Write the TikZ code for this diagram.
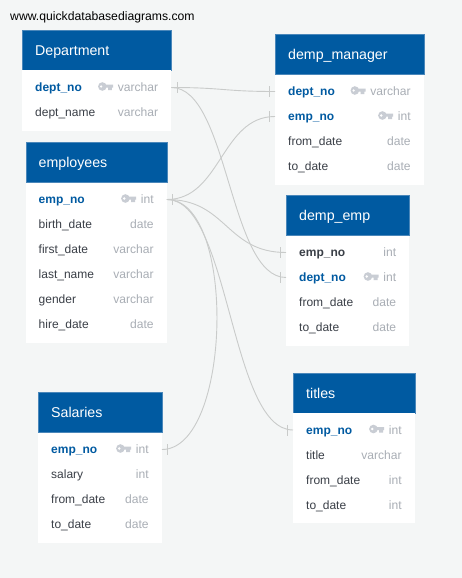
\documentclass[tikz,border=0pt]{standalone}
\usepackage{fontspec}
\setmainfont{Liberation Sans}
\usetikzlibrary{positioning}
\definecolor{pagebg}{HTML}{F4F6F6}
\definecolor{headblue}{HTML}{005AA1}
\definecolor{headedge}{HTML}{4A87BA}
\definecolor{namedark}{HTML}{3A3F47}
\definecolor{typegrey}{HTML}{A9AEB5}
\definecolor{keygrey}{HTML}{C9CDD4}
\definecolor{linkgrey}{HTML}{C9CBCA}
\tikzset{
  tablehead/.style={anchor=north west, fill=headblue, draw=headedge, line width=.3pt, text=white,
    font=\fontsize{14.2}{16}\selectfont, minimum height=40pt, inner xsep=13pt, inner ysep=0pt,
    text height=14.5pt, text depth=3pt},
  tablebody/.style={anchor=north west, fill=white, inner sep=0pt},
  rowbox/.style={anchor=north west, minimum height=25pt, inner xsep=13pt, inner ysep=0pt,
    font=\fontsize{12}{14}\selectfont, text height=11pt, text depth=3pt},
  plainname/.style={text=namedark},
  pkname/.style={text=headblue, font=\fontsize{12}{14}\selectfont\bfseries},
  fkname/.style={text=namedark, font=\fontsize{12}{14}\selectfont\bfseries},
  rowtype/.style={anchor=east, inner sep=0pt, text=typegrey,
    font=\fontsize{12.1}{14}\selectfont, text height=11pt, text depth=3pt},
  link/.style={draw=linkgrey, line width=.9pt},
  keyicon/.pic={
    \fill[keygrey] (-10.8,-1) circle (4.3);
    \fill[keygrey] (-9,-2.8) rectangle (0,0.2) (-5,0) rectangle (-1.2,2.6);
    \fill[white] (-12,-1) circle (1.3);
  },
  nokey/.pic={},
}
% name, x, y, width, title, rows, fields
\newcommand{\dbtable}[7]{
  \pgfmathsetlengthmacro{\tabletext}{#4-26}
  \node[tablehead, text width=\tabletext] (#1_head) at (#2,#3) {#5};
  \node[tablebody, minimum width=#4pt, minimum height=25*#6+10, below=0pt of #1_head.south west, anchor=north west] (#1_body) {};
  \foreach \fname/\ftype/\fstyle/\fkey [count=\rowi] in {#7} {
    \node[rowbox, \fstyle, text width=\tabletext] (#1_\rowi) at ([yshift=-4.5pt-25pt*(\rowi-1)]#1_head.south west) {\fname};
    \node[rowtype] (#1_\rowi_t) at ([xshift=-13pt]#1_\rowi.east) {\ftype};
    \path ([xshift=-4.5pt]#1_\rowi_t.west) pic {\fkey};
  }
}
\begin{document}
\begin{tikzpicture}[x=1pt,y=-1pt]
  \useasboundingbox (0,0) rectangle (462,578);
  \fill[pagebg] (0,0) rectangle (462,578);
  \node[anchor=base west, inner sep=0pt, font=\fontsize{12.2}{14}\selectfont] (site) at (10,20.5) {www.quickdatabasediagrams.com};

  \dbtable{Dept}{22}{30}{149}{Department}{2}{
    dept\_no/varchar/pkname/keyicon, dept\_name/varchar/plainname/nokey}
  \dbtable{Emp}{25.5}{142}{141}{employees}{6}{
    emp\_no/int/pkname/keyicon, birth\_date/date/plainname/nokey,
    first\_date/varchar/plainname/nokey, last\_name/varchar/plainname/nokey,
    gender/varchar/plainname/nokey, hire\_date/date/plainname/nokey}
  \dbtable{Mgr}{275}{34}{148.5}{demp\_manager}{4}{
    dept\_no/varchar/pkname/keyicon, emp\_no/int/pkname/keyicon,
    from\_date/date/plainname/nokey, to\_date/date/plainname/nokey}
  \dbtable{DeEmp}{286}{195}{123}{demp\_emp}{4}{
    emp\_no/int/fkname/nokey, dept\_no/int/pkname/keyicon,
    from\_date/date/plainname/nokey, to\_date/date/plainname/nokey}
  \dbtable{Sal}{38}{392}{123.5}{Salaries}{4}{
    emp\_no/int/pkname/keyicon, salary/int/plainname/nokey,
    from\_date/date/plainname/nokey, to\_date/date/plainname/nokey}
  \dbtable{Tit}{293}{372.5}{121.5}{titles}{4}{
    emp\_no/int/pkname/keyicon, title/varchar/plainname/nokey,
    from\_date/int/plainname/nokey, to\_date/int/plainname/nokey}

  \begin{scope}[link]
    \draw (Dept_1.east) to[out=0,in=180,distance=52pt] (Mgr_1.west);
    \draw (Dept_1.east) to[out=0,in=180,distance=57pt] (DeEmp_2.west);
    \draw (Emp_1.east) to[out=0,in=180,distance=54pt] (Mgr_2.west);
    \draw (Emp_1.east) to[out=0,in=180,distance=60pt] (DeEmp_1.west);
    \draw (Emp_1.east) to[out=0,in=180,distance=63pt] (Tit_1.west);
    \draw (Emp_1.east) to[out=0,in=0,distance=70pt] (Sal_1.east);
    % the cross bars
    \foreach \rowend/\barx in {Dept_1.east/6, Emp_1.east/5.5, Sal_1.east/5.5,
        Mgr_1.west/-6, Mgr_2.west/-6, DeEmp_1.west/-6, DeEmp_2.west/-6, Tit_1.west/-6}
      \draw ([shift={(\barx,-5.5)}]\rowend) -- ++(0,11);
  \end{scope}
\end{tikzpicture}
\end{document}
